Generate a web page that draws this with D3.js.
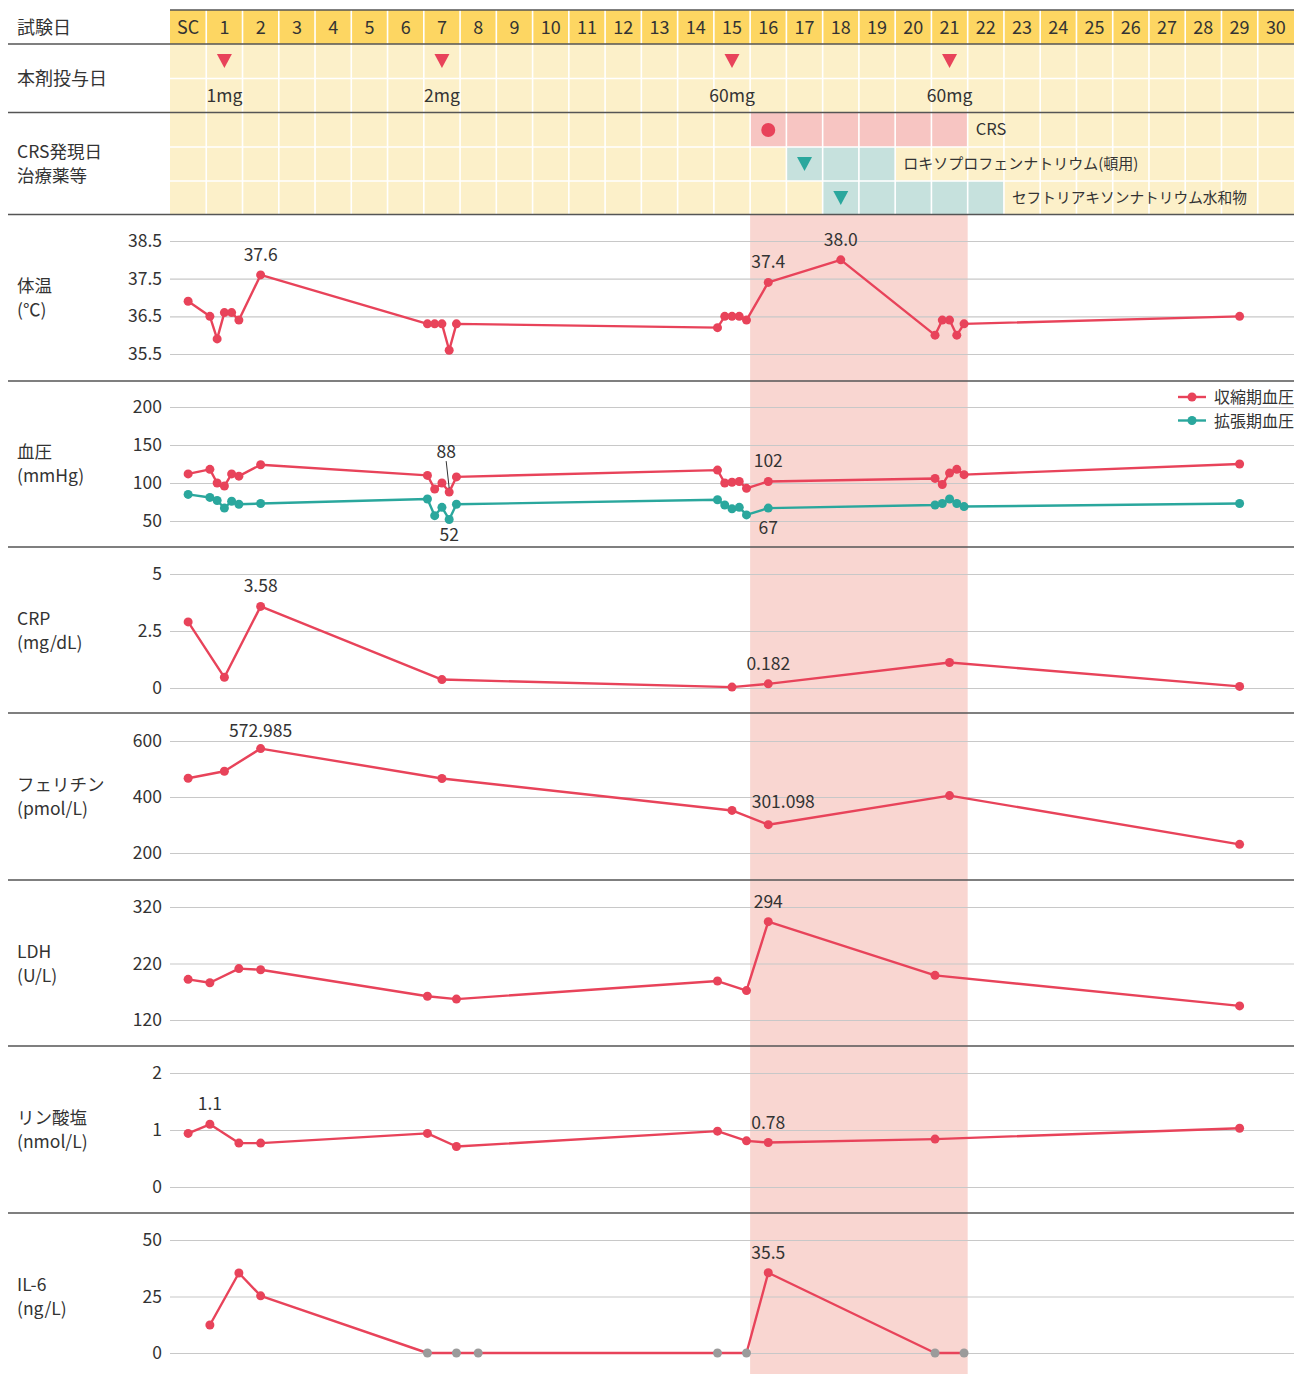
<!DOCTYPE html>
<html><head><meta charset="utf-8">
<script src="https://cdn.jsdelivr.net/npm/d3@7"></script>
<style>
body{margin:0;background:#fff;}
svg text{font-family:"Noto Sans CJK JP","Noto Sans",sans-serif;fill:#333;}
</style>
</head><body>
<svg id="c" width="1296" height="1374"></svg>
<script>
// ---------------- data ----------------
const dayLabels = ["SC","1","2","3","4","5","6","7","8","9","10","11","12","13","14","15","16","17","18","19","20","21","22","23","24","25","26","27","28","29","30"];
const doseDays = [1, 7, 15, 21];
const doseLabels = ["1mg", "2mg", "60mg", "60mg"];

const treatNames = ["CRS", "ロキソプロフェンナトリウム(頓用)", "セフトリアキソンナトリウム水和物"];
const treatStart = [16, 17, 18];
const treatEnd = [21, 19, 22];
const crsPeriod = [16, 21];

const tempTime = [0,0.6,0.8,1.0,1.2,1.4,2,6.6,6.8,7.0,7.2,7.4,14.6,14.8,15.0,15.2,15.4,16,18,20.6,20.8,21.0,21.2,21.4,29];
const tempVal  = [36.9,36.5,35.9,36.6,36.6,36.4,37.6,36.3,36.3,36.3,35.6,36.3,36.2,36.5,36.5,36.5,36.4,37.4,38.0,36.0,36.4,36.4,36.0,36.3,36.5];
const tempTicks = [35.5, 36.5, 37.5, 38.5];

const bpTime = [0,0.6,0.8,1.0,1.2,1.4,2,6.6,6.8,7.0,7.2,7.4,14.6,14.8,15.0,15.2,15.4,16,20.6,20.8,21.0,21.2,21.4,29];
const sysVal = [112,118,100,96,112,109,124,110,92,100,88,108,117,100,101,102,93,102,106,98,113,118,111,125];
const diaVal = [85,81,77,67,76,72,73,79,57,68,52,72,78,71,66,68,58,67,71,73,79,73,69,73];
const bpTicks = [50, 100, 150, 200];
const bpSeries = ["収縮期血圧", "拡張期血圧"];

const crpTime = [0,1,2,7,15,16,21,29];
const crpVal  = [2.9,0.47,3.58,0.37,0.04,0.182,1.12,0.07];
const crpTicks = [0, 2.5, 5];

const ferTime = [0,1,2,7,15,16,21,29];
const ferVal  = [467,492,572.985,466,352,301.098,405,231];
const ferTicks = [200, 400, 600];

const ldhTime = [0,0.6,1.4,2,6.6,7.4,14.6,15.4,16,20.6,29];
const ldhVal  = [192,186,211,209,162,157,189,172,294,199,145];
const ldhTicks = [120, 220, 320];

const phosTime = [0,0.6,1.4,2,6.6,7.4,14.6,15.4,16,20.6,29];
const phosVal  = [0.94,1.1,0.77,0.77,0.94,0.71,0.98,0.81,0.78,0.84,1.03];
const phosTicks = [0, 1, 2];

const il6Time = [0.6,1.4,2,6.6,7.4,8,14.6,15.4,16,20.6,21.4];
const il6Val  = [12.4,35.4,25.3,0,0,0,0,0,35.5,0,0];
const il6Below = [false,false,false,true,true,true,true,true,false,true,true];
const il6Ticks = [0, 25, 50];

// ---------------- layout ----------------
const svg = d3.select("#c");
const X0 = 170, X1 = 1294;
const x = d3.scaleLinear().domain([-0.5, 30.5]).range([X0, X1]);
const cw = x(1) - x(0);
const RED = "#E8435A", TEAL = "#2AA79D", GRAY = "#9B9B9B";
const HEAD = "#FDD662", BODY = "#FCF0C9";
const LINE = "#555";
const FS_LABEL = 17.5, FS_TICK = 17.5, FS_NOTE = 17.5;

// ---------- header table ----------
const idx = d3.range(dayLabels.length);
svg.append("g").selectAll("rect").data(idx).join("rect")
  .attr("x", i => x(i - 0.5)).attr("y", 10).attr("width", cw).attr("height", 34).attr("fill", HEAD);
svg.append("rect").attr("x", X0).attr("y", 44).attr("width", X1 - X0).attr("height", 170).attr("fill", BODY);

// treatment cells
const treatRowY = [113, 147, 181];
const treatFill = ["#F7C5C2", "#C6E1DD", "#C6E1DD"];
treatNames.forEach((n, r) => {
  const ds = d3.range(treatStart[r], treatEnd[r] + 1);
  svg.append("g").selectAll("rect").data(ds).join("rect")
    .attr("x", d => x(d - 0.5)).attr("y", treatRowY[r]).attr("width", cw).attr("height", 34)
    .attr("fill", treatFill[r]);
});

// white cell separators
svg.append("g").selectAll("line").data(d3.range(1, dayLabels.length)).join("line")
  .attr("x1", i => x(i - 0.5)).attr("x2", i => x(i - 0.5)).attr("y1", 10).attr("y2", 214)
  .attr("stroke", "#fff").attr("stroke-width", 1.6);
[78.5, 147, 181].forEach(yv => {
  svg.append("line").attr("x1", X0).attr("x2", X1).attr("y1", yv).attr("y2", yv)
    .attr("stroke", "#fff").attr("stroke-width", 1.6);
});

// header labels
svg.append("g").selectAll("text").data(idx).join("text")
  .attr("x", i => x(i)).attr("y", 34).attr("text-anchor", "middle")
  .attr("font-size", 18).text(i => dayLabels[i]);

// dose markers
svg.append("g").selectAll("path").data(doseDays).join("path")
  .attr("d", d => `M${x(d) - 7.5},54 L${x(d) + 7.5},54 L${x(d)},68 Z`).attr("fill", RED);
svg.append("g").selectAll("text").data(doseDays).join("text")
  .attr("x", d => x(d)).attr("y", 102).attr("text-anchor", "middle").attr("font-size", 17.5)
  .text((d, i) => doseLabels[i]);

// treatment markers
svg.append("circle").attr("cx", x(treatStart[0])).attr("cy", 130).attr("r", 7).attr("fill", RED);
[1, 2].forEach(r => {
  const cx = x(treatStart[r]), ty = treatRowY[r] + 10;
  svg.append("path").attr("d", `M${cx - 7.5},${ty} L${cx + 7.5},${ty} L${cx},${ty + 14} Z`).attr("fill", TEAL);
});
treatNames.forEach((n, r) => {
  svg.append("text").attr("x", x(treatEnd[r] + 0.5) + 8).attr("y", treatRowY[r] + 22)
    .attr("font-size", r === 0 ? 16.5 : (r === 1 ? 15 : 14.7)).text(n);
});

// left header labels
svg.append("text").attr("x", 17).attr("y", 34).attr("font-size", 18).text("試験日");
svg.append("text").attr("x", 17).attr("y", 85).attr("font-size", 18).text("本剤投与日");
svg.append("text").attr("x", 17).attr("y", 158).attr("font-size", FS_LABEL).text("CRS発現日");
svg.append("text").attr("x", 17).attr("y", 182).attr("font-size", FS_LABEL).text("治療薬等");

// ---------- CRS shading ----------
svg.append("rect").attr("x", x(crsPeriod[0] - 0.5)).attr("y", 215)
  .attr("width", x(crsPeriod[1] + 0.5) - x(crsPeriod[0] - 0.5)).attr("height", 1374 - 215)
  .attr("fill", "#F9D6D1");

// ---------- panels ----------
const mk = (t, v) => t.map((tt, i) => ({t: tt, v: v[i]}));
const panels = [
  {label: ["体温", "(℃)"], yr: [354, 241], dom: [35.5, 38.5], ticks: tempTicks, fmt: d3.format(".1f"),
   series: [{data: mk(tempTime, tempVal), color: RED}],
   notes: [[0, 6, "37.6", 0, -14], [0, 17, "37.4", 0, -14], [0, 18, "38.0", 0, -14]]},
  {label: ["血圧", "(mmHg)"], yr: [521, 407], dom: [50, 200], ticks: bpTicks, fmt: d3.format("d"),
   series: [{data: mk(bpTime, sysVal), color: RED}, {data: mk(bpTime, diaVal), color: TEAL}],
   notes: [[0, 10, "88", -3, -34], [1, 10, "52", 0, 22], [0, 17, "102", 0, -14], [1, 17, "67", 0, 26]]},
  {label: ["CRP", "(mg/dL)"], yr: [688, 574], dom: [0, 5], ticks: crpTicks, fmt: d => d === 2.5 ? "2.5" : d3.format("d")(d),
   series: [{data: mk(crpTime, crpVal), color: RED}],
   notes: [[0, 2, "3.58", 0, -14], [0, 5, "0.182", 0, -14]]},
  {label: ["フェリチン", "(pmol/L)"], yr: [853, 741], dom: [200, 600], ticks: ferTicks, fmt: d3.format("d"),
   series: [{data: mk(ferTime, ferVal), color: RED}],
   notes: [[0, 2, "572.985", 0, -12], [0, 5, "301.098", 15, -17]]},
  {label: ["LDH", "(U/L)"], yr: [1020, 907], dom: [120, 320], ticks: ldhTicks, fmt: d3.format("d"),
   series: [{data: mk(ldhTime, ldhVal), color: RED}],
   notes: [[0, 8, "294", 0, -14]]},
  {label: ["リン酸塩", "(nmol/L)"], yr: [1187, 1073], dom: [0, 2], ticks: phosTicks, fmt: d3.format("d"),
   series: [{data: mk(phosTime, phosVal), color: RED}],
   notes: [[0, 1, "1.1", 0, -14], [0, 8, "0.78", 0, -14]]},
  {label: ["IL-6", "(ng/L)"], yr: [1353, 1240], dom: [0, 50], ticks: il6Ticks, fmt: d3.format("d"),
   series: [{data: mk(il6Time, il6Val), color: RED, below: il6Below}],
   notes: [[0, 8, "35.5", 0, -14]]}
];

panels.forEach((p, pi) => {
  const y = d3.scaleLinear().domain(p.dom).range(p.yr);
  const g = svg.append("g");
  const ax = g.append("g").attr("transform", `translate(${X0},0)`)
    .call(d3.axisLeft(y).tickValues(p.ticks).tickFormat(p.fmt).tickSize(-(X1 - X0)).tickPadding(8));
  ax.select(".domain").remove();
  ax.selectAll(".tick line").attr("stroke", "#C8C8C8").attr("stroke-width", 1.2);
  ax.selectAll(".tick text").attr("font-size", FS_TICK).attr("fill", "#333")
    .style("font-family", '"Noto Sans CJK JP","Noto Sans",sans-serif');
  const midY = (p.yr[0] + p.yr[1]) / 2;
  g.append("text").attr("x", 17).attr("y", midY - 6).attr("font-size", FS_LABEL).text(p.label[0]);
  g.append("text").attr("x", 17).attr("y", midY + 18).attr("font-size", FS_LABEL).text(p.label[1]);
  const line = d3.line().x(d => x(d.t)).y(d => y(d.v));
  p.series.forEach(s => {
    g.append("path").datum(s.data).attr("d", line).attr("fill", "none")
      .attr("stroke", s.color).attr("stroke-width", 2.4).attr("stroke-linejoin", "round");
    g.append("g").selectAll("circle").data(s.data).join("circle")
      .attr("cx", d => x(d.t)).attr("cy", d => y(d.v)).attr("r", 4.5)
      .attr("fill", (d, i) => (s.below && s.below[i]) ? GRAY : s.color);
  });
  p.notes.forEach(([si, i, txt, dx, dy]) => {
    const d = p.series[si].data[i];
    g.append("text").attr("x", x(d.t) + dx).attr("y", y(d.v) + dy)
      .attr("text-anchor", "middle").attr("font-size", FS_NOTE).text(txt);
  });
  if (pi === 1) {
    const d = p.series[0].data[10];
    g.append("line").attr("x1", x(d.t) - 3).attr("y1", y(d.v) - 31).attr("x2", x(d.t)).attr("y2", y(d.v) - 4)
      .attr("stroke", "#333").attr("stroke-width", 1);
    const lg = g.append("g");
    [RED, TEAL].forEach((c, k) => {
      const ly = 397 + k * 23.5;
      lg.append("line").attr("x1", 1178).attr("x2", 1206).attr("y1", ly).attr("y2", ly).attr("stroke", c).attr("stroke-width", 2.4);
      lg.append("circle").attr("cx", 1192).attr("cy", ly).attr("r", 4.5).attr("fill", c);
      lg.append("text").attr("x", 1214).attr("y", ly + 6).attr("font-size", 16).text(bpSeries[k]);
    });
  }
});

// ---------- dark separators ----------
svg.append("line").attr("x1", X0).attr("x2", X1).attr("y1", 10).attr("y2", 10).attr("stroke", LINE).attr("stroke-width", 1.3);
[44, 112.5, 214.5, 381, 547, 713, 880, 1046, 1213].forEach(yv => {
  svg.append("line").attr("x1", 8).attr("x2", X1).attr("y1", yv).attr("y2", yv)
    .attr("stroke", LINE).attr("stroke-width", 1.5);
});
</script>
</body></html>
